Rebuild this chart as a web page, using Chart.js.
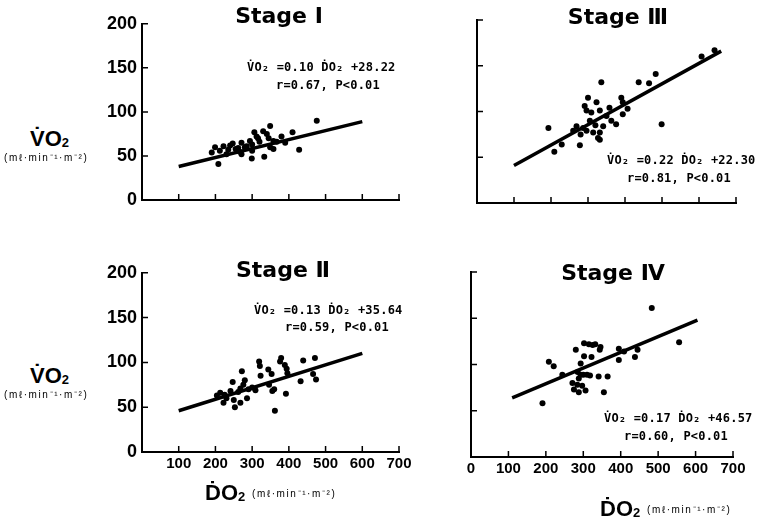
<!DOCTYPE html>
<html lang="en">
<head>
<meta charset="UTF-8" />
<title>VO2 vs DO2 by stage</title>
<script src="https://cdn.jsdelivr.net/npm/chart.js"></script>
<style>
    body { margin: 0; background: #fff; }
    #page { position: relative; width: 757px; height: 522px; overflow: hidden; color: #000; font-family: "Liberation Sans", Arial, sans-serif; }
    .box { position: absolute; }
    .txt { position: absolute; white-space: nowrap; font-weight: bold; line-height: 1; }
    .stage { font-family: "DejaVu Sans", sans-serif; font-size: 22px; transform: translate(-50%, -50%); }
    .eq { font-family: "DejaVu Sans Mono", monospace; font-size: 12px; letter-spacing: 0.2px; }
    .big { font-size: 22px; }
    .big sub { font-size: 13px; vertical-align: -1px; }
    .unit { font-size: 10px; font-weight: normal; letter-spacing: 1.6px; }
</style>
</head>
<body>
<div id="page">
    <div class="box" id="b1"><canvas id="c1"></canvas></div>
    <div class="box" id="b2"><canvas id="c2"></canvas></div>
    <div class="box" id="b3"><canvas id="c3"></canvas></div>
    <div class="box" id="b4"><canvas id="c4"></canvas></div>

    <div class="txt stage" style="left:279px; top:16px">Stage Ⅰ</div>
    <div class="txt stage" style="left:618px; top:17px">Stage Ⅲ</div>
    <div class="txt stage" style="left:283px; top:270px">Stage Ⅱ</div>
    <div class="txt stage" style="left:613px; top:273px">Stage Ⅳ</div>

    <div class="txt eq" style="left:247px; top:61px">V̇O₂ =0.10 ḊO₂ +28.22</div>
    <div class="txt eq" style="left:276px; top:79px">r=0.67, P&lt;0.01</div>
    <div class="txt eq" style="left:607px; top:154px">V̇O₂ =0.22 ḊO₂ +22.30</div>
    <div class="txt eq" style="left:627px; top:172px">r=0.81, P&lt;0.01</div>
    <div class="txt eq" style="left:254px; top:304px">V̇O₂ =0.13 ḊO₂ +35.64</div>
    <div class="txt eq" style="left:285px; top:321px">r=0.59, P&lt;0.01</div>
    <div class="txt eq" style="left:604px; top:412px">V̇O₂ =0.17 ḊO₂ +46.57</div>
    <div class="txt eq" style="left:624px; top:430px">r=0.60, P&lt;0.01</div>

    <div class="txt big" style="left:30px; top:128px">V̇O<sub>2</sub></div>
    <div class="txt unit" style="left:4px; top:153px">(mℓ·min⁻¹·m⁻²)</div>
    <div class="txt big" style="left:30px; top:365px">V̇O<sub>2</sub></div>
    <div class="txt unit" style="left:4px; top:390px">(mℓ·min⁻¹·m⁻²)</div>

    <div class="txt big" style="left:205px; top:482px">ḊO<sub>2</sub></div>
    <div class="txt unit" style="left:252px; top:489px">(mℓ·min⁻¹·m⁻²)</div>
    <div class="txt big" style="left:600px; top:498px">ḊO<sub>2</sub></div>
    <div class="txt unit" style="left:647px; top:505px">(mℓ·min⁻¹·m⁻²)</div>
</div>

<script>
    // tick values
    const xTickValues = [0, 100, 200, 300, 400, 500, 600, 700];
    const yTickValues = [0, 50, 100, 150, 200];

    // Stage I
    const stage1X = [190, 199, 208, 212, 222, 230, 235, 240, 247, 255, 262, 265, 271, 271, 280, 285, 294, 299, 300, 300, 306, 312, 316, 320, 330, 333, 340, 345, 349, 349, 358, 358, 367, 380, 390, 410, 428, 476];
    const stage1Y = [54, 60, 41, 56, 61, 52, 57, 62, 64, 58, 59, 55, 65, 52, 60, 61, 67, 47, 63, 56, 77, 72, 70, 66, 78, 49, 75, 70, 84, 60, 67, 58, 66, 72, 65, 77, 57, 90];
    const stage1LineX = [100, 600];
    const stage1LineY = [38, 89];

    // Stage III
    const stage3X = [193, 209, 229, 260, 269, 278, 280, 287, 291, 296, 296, 300, 305, 309, 314, 320, 323, 327, 332, 332, 332, 336, 341, 350, 358, 363, 376, 390, 394, 394, 407, 437, 465, 483, 499, 607, 642];
    const stage3Y = [82, 56, 64, 79, 84, 63, 75, 82, 106, 101, 79, 115, 90, 99, 77, 85, 110, 71, 101, 77, 69, 132, 84, 95, 104, 90, 86, 115, 110, 97, 103, 132, 131, 141, 86, 160, 167];
    const stage3LineX = [100, 660];
    const stage3LineY = [41, 166];

    // Stage II
    const stage2X = [204, 213, 222, 225, 230, 241, 247, 250, 253, 262, 268, 268, 272, 276, 280, 286, 290, 300, 309, 319, 321, 323, 344, 346, 353, 355, 360, 362, 376, 379, 389, 392, 394, 396, 432, 439, 466, 471, 474];
    const stage2Y = [63, 66, 55, 64, 60, 68, 78, 58, 50, 67, 71, 55, 90, 75, 80, 60, 70, 72, 69, 101, 96, 85, 92, 75, 87, 68, 70, 46, 101, 105, 97, 65, 93, 88, 79, 102, 87, 105, 81];
    const stage2LineX = [100, 600];
    const stage2LineY = [46, 110];

    // Stage IV
    const stage4X = [191, 208, 221, 244, 271, 275, 280, 284, 285, 288, 288, 293, 293, 297, 300, 302, 302, 306, 310, 315, 318, 322, 325, 332, 341, 344, 346, 355, 365, 395, 395, 409, 438, 445, 483, 556];
    const stage4Y = [58, 103, 98, 89, 80, 73, 116, 78, 92, 85, 70, 101, 89, 77, 89, 123, 109, 72, 89, 122, 88, 108, 121, 122, 87, 116, 119, 70, 87, 117, 105, 114, 108, 116, 161, 124];
    const stage4LineX = [110, 605];
    const stage4LineY = [64, 148];

    function toPoints(xs, ys) {
        return xs.map((x, i) => ({ x: x, y: ys[i] }));
    }

    // short inward tick marks, like the printed figure
    const innerTicks = {
        id: 'innerTicks',
        afterDatasetsDraw(chart) {
            const { ctx, chartArea: a, scales: { x, y } } = chart;
            ctx.save();
            ctx.strokeStyle = '#000';
            ctx.lineWidth = 1.5;
            ctx.beginPath();
            x.ticks.forEach(t => {
                if (t.value === 0) return;
                const px = x.getPixelForValue(t.value);
                ctx.moveTo(px, a.bottom);
                ctx.lineTo(px, a.bottom - 6);
            });
            y.ticks.forEach(t => {
                if (t.value === 0) return;
                const py = y.getPixelForValue(t.value);
                ctx.moveTo(a.left, py);
                ctx.lineTo(a.left + 6, py);
            });
            ctx.stroke();
            ctx.restore();
        }
    };

    const LEFT = 55, TOP = 12, RIGHT = 25, BOTTOM = 40;

    function makeChart(n, box, xs, ys, lx, ly, showX, showY, hideZeroX) {
        const w = box.right - box.left, h = box.bottom - box.top;
        const div = document.getElementById('b' + n);
        div.style.left = (box.left - LEFT) + 'px';
        div.style.top = (box.top - TOP) + 'px';
        const cv = document.getElementById('c' + n);
        cv.width = w + LEFT + RIGHT;
        cv.height = h + TOP + BOTTOM;

        return new Chart(cv, {
            type: 'scatter',
            data: {
                datasets: [{
                    data: toPoints(xs, ys),
                    backgroundColor: '#000',
                    borderWidth: 0,
                    pointRadius: 3
                }, {
                    data: toPoints(lx, ly),
                    showLine: true,
                    borderColor: '#000',
                    borderWidth: 3.5,
                    pointRadius: 0
                }]
            },
            options: {
                responsive: false,
                animation: false,
                layout: { padding: { top: TOP, right: RIGHT, left: 0, bottom: 0 } },
                plugins: { legend: { display: false }, tooltip: { enabled: false } },
                scales: {
                    x: {
                        type: 'linear',
                        min: 0,
                        max: 700,
                        afterBuildTicks: s => { s.ticks = xTickValues.map(v => ({ value: v })); },
                        afterFit: s => { s.height = BOTTOM; },
                        grid: { display: false, drawTicks: false },
                        border: { display: true, color: '#000', width: 2 },
                        ticks: {
                            display: showX,
                            color: '#000',
                            padding: 3,
                            font: { family: 'Liberation Sans', weight: 'bold', size: 15 },
                            callback: v => (hideZeroX && v === 0) ? '' : v
                        }
                    },
                    y: {
                        type: 'linear',
                        min: 0,
                        max: 200,
                        afterBuildTicks: s => { s.ticks = yTickValues.map(v => ({ value: v })); },
                        afterFit: s => { s.width = LEFT; },
                        grid: { display: false, drawTicks: false },
                        border: { display: true, color: '#000', width: 2 },
                        ticks: {
                            display: showY,
                            color: '#000',
                            padding: 5,
                            font: { family: 'Liberation Sans', weight: 'bold', size: 18 }
                        }
                    }
                }
            },
            plugins: [innerTicks]
        });
    }

    makeChart(1, { left: 142, right: 399, top: 20, bottom: 200 }, stage1X, stage1Y, stage1LineX, stage1LineY, false, true, false);
    makeChart(2, { left: 477, right: 736, top: 20, bottom: 203 }, stage3X, stage3Y, stage3LineX, stage3LineY, false, false, false);
    makeChart(3, { left: 142, right: 399, top: 269, bottom: 452 }, stage2X, stage2Y, stage2LineX, stage2LineY, true, true, true);
    makeChart(4, { left: 471, right: 733, top: 272, bottom: 457 }, stage4X, stage4Y, stage4LineX, stage4LineY, true, false, false);
</script>
</body>
</html>
